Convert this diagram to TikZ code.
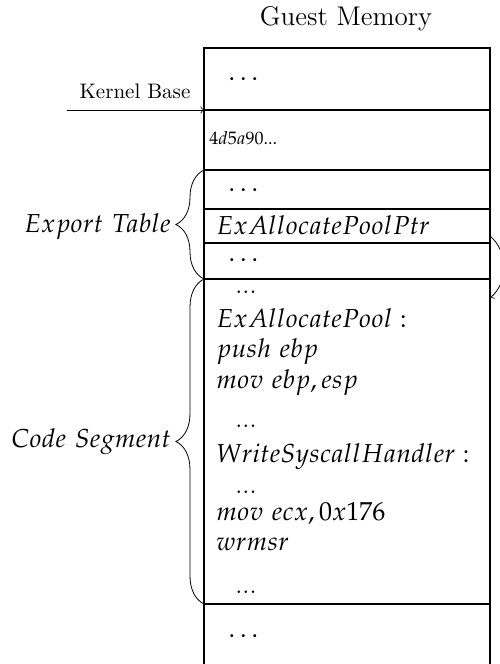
\documentclass[tikz,border=0pt]{standalone}
\usepackage{mathpazo}
\usepackage{amsmath}
\usetikzlibrary{arrows,decorations.pathreplacing}

\tikzset{
  memrow/.style={draw, line width=1pt, anchor=north west, minimum width=143pt, inner sep=0pt, outer sep=0pt},
  txt/.style={anchor=base west, inner sep=0pt, font=\fontsize{13}{15}\selectfont},
  curly/.style={decorate, decoration={brace, amplitude=14pt}, line width=0.4pt}
}

\begin{document}
\begin{tikzpicture}[x=0.5pt,y=-0.5pt]
\useasboundingbox (0,0) rectangle (499,664);
\node[font=\fontsize{13.5}{15}\selectfont] (title) at (346,19) {Guest Memory};

\node[memrow, minimum height=31pt] (r1) at (204,48) {};
\node[memrow, minimum height=30pt] (r2) at (204,110) {};
\node[memrow, minimum height=19.5pt] (r3) at (204,170) {};
\node[memrow, minimum height=17pt] (r4) at (204,209) {};
\node[memrow, minimum height=18pt] (r5) at (204,243) {};
\node[memrow, minimum height=162.5pt] (r6) at (204,279) {};
\node[memrow, minimum height=36pt] (r7) at (204,604) {};

\node[txt] (d1) at (228,80) {$\ldots$};
\node[txt, font=\fontsize{9}{11}\selectfont] (magic) at (209,144) {$4d5a90...$};
\node[txt] (d3) at (228,191) {$\ldots$};
\node[txt] (ptr) at (216,234) {$ExAllocatePoolPtr$};
\node[txt] (d5) at (228,261) {$\ldots$};
\node[txt] (d7) at (228,637) {$\ldots$};

% code segment
\node[txt] (c0) at (235,293) {...};
\node[txt] (c1) at (216,327) {$ExAllocatePool:$};
\node[txt] (c2) at (216,357) {$push\ ebp$};
\node[txt] (c3) at (216,388) {$mov\ ebp,esp$};
\node[txt] (c4) at (235,427) {...};
\node[txt] (c5) at (216,462) {$WriteSyscallHandler:$};
\node[txt] (c6) at (235,493) {...};
\node[txt] (c7) at (216,520) {$mov\ ecx,0x176$};
\node[txt] (c8) at (216,550) {$wrmsr$};
\node[txt] (c9) at (235,593) {...};

\node[anchor=base, font=\fontsize{10.5}{12}\selectfont] (kbase) at (135,98) {Kernel Base};
\coordinate (kstart) at (67,110);
\draw[->, line width=0.4pt] (kstart) -- (r1.south west);

\draw[curly] (r5.south west) -- node[midway, anchor=east, xshift=-13pt, yshift=-1pt, font=\fontsize{13}{15}\selectfont] (exptab) {$Export\ Table$} (r3.north west);
\draw[curly] (r6.south west) -- node[midway, anchor=east, xshift=-13pt, font=\fontsize{13}{15}\selectfont] (codeseg) {$Code\ Segment$} (r6.north west);

\draw[->, line width=0.4pt] ([yshift=-5pt]r4.east) to[bend left=50] ([yshift=-9.5pt]r6.north east);
\end{tikzpicture}
\end{document}
